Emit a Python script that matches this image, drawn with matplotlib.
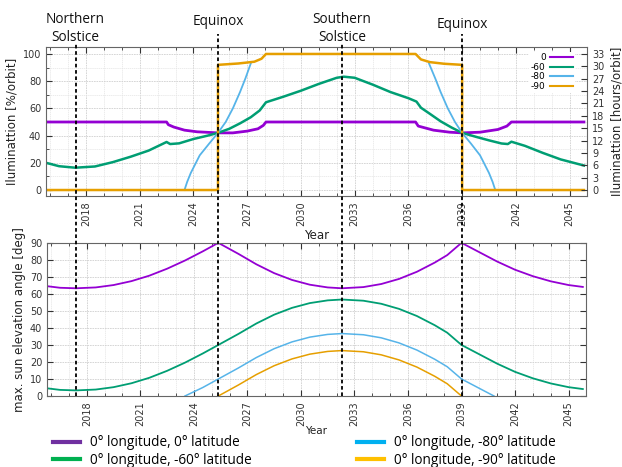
import numpy as np
import matplotlib
matplotlib.use("Agg")
import matplotlib.pyplot as plt
from matplotlib.transforms import blended_transform_factory
from matplotlib.lines import Line2D

# --- illumination per orbit (top panel) ---
lat0_year = [2015.77, 2022.5, 2022.6, 2022.9, 2023.5, 2024.2, 2025.37, 2026.2, 2027.0,
             2027.6, 2027.9, 2028.05, 2036.4, 2036.55, 2037.4, 2038.3, 2039.0, 2040.0,
             2041.0, 2041.5, 2041.75, 2045.8]
lat0_illum = [50, 50, 48, 46.3, 44, 42.8, 42, 42, 43.3,
              45, 47.5, 50, 50, 47, 44, 42.5, 42, 42.5,
              44.5, 47, 50, 50]

lat60_year = [2015.77, 2016.5, 2017.4, 2018.5, 2019.5, 2020.5, 2021.5, 2022.5, 2022.7,
              2023.2, 2024.0, 2024.8, 2025.37, 2026.0, 2026.6, 2027.2, 2027.7, 2028.05,
              2029.0, 2030.0, 2031.0, 2032.0, 2032.4, 2033.0, 2034.0, 2035.0, 2036.0,
              2036.45, 2036.7, 2037.2, 2037.8, 2038.4, 2039.0, 2039.8, 2040.5, 2041.2,
              2041.55, 2041.75, 2042.5, 2043.5, 2044.5, 2045.8]
lat60_illum = [20, 17.5, 16.4, 17.3, 20.5, 24.5, 29, 35.3, 33.8,
               34.3, 37.5, 40, 42, 45, 49, 53.5, 58.5, 64.5,
               68.5, 73, 78, 82.5, 83.3, 82.5, 77.5, 72, 67.5,
               65, 60.5, 56, 50.5, 46, 42, 39, 36.5, 34.2,
               33.8, 35.5, 32.5, 27.3, 22.5, 18]

lat80_year_a = [2023.5, 2023.65, 2023.85, 2024.35, 2024.87, 2025.37, 2025.8, 2026.2,
                2026.6, 2026.9, 2027.2]
lat80_illum_a = [0, 6, 12.5, 25.5, 34, 42, 50, 60, 72, 82, 93]
lat80_year_b = [2037.15, 2037.5, 2037.8, 2038.2, 2038.6, 2039.0, 2039.5, 2040.0,
                2040.5, 2040.7, 2040.85]
lat80_illum_b = [93, 82, 72, 60, 50, 42, 34, 25.5, 12.5, 6, 0]

lat90_year = [2015.77, 2025.37, 2025.37, 2026.5, 2027.4, 2027.8, 2028.05, 2036.4,
              2036.7, 2037.2, 2038.0, 2039.0, 2039.0, 2045.8]
lat90_illum = [0, 0, 92, 93, 94.3, 96.5, 100, 100,
               96, 94, 92.8, 92, 0, 0]

# --- max. sun elevation angle (bottom panel) ---
elev_year = [2015.8, 2016.5, 2017.4, 2018.5, 2019.5, 2020.5, 2021.5, 2022.5, 2023.5,
             2024.5, 2025.37, 2026.5, 2027.5, 2028.5, 2029.5, 2030.5, 2031.5, 2032.3,
             2033.5, 2034.5, 2035.5, 2036.5, 2037.5, 2038.2, 2039.0, 2040.0, 2041.0,
             2042.0, 2043.0, 2044.0, 2045.0, 2045.8]
elev_lat0 = [64.5, 63.6, 63.3, 63.8, 65.2, 67.5, 70.7, 74.8, 79.6,
             85.0, 90.0, 83.5, 77.4, 72.2, 68.2, 65.4, 63.8, 63.3,
             64.0, 65.8, 68.8, 73.0, 78.4, 82.8, 90.0, 84.5, 79.0,
             74.2, 70.4, 67.4, 65.2, 64.1]
elev_lat60 = [4.5, 3.6, 3.3, 3.8, 5.2, 7.5, 10.7, 14.8, 19.6,
              25.0, 30.0, 36.5, 42.6, 47.8, 51.8, 54.6, 56.2, 56.7,
              56.0, 54.2, 51.2, 47.0, 41.6, 37.2, 30.0, 24.5, 19.0,
              14.2, 10.4, 7.4, 5.2, 4.1]
elev80_year = [2023.5, 2024.5, 2025.37, 2026.5, 2027.5, 2028.5, 2029.5, 2030.5, 2031.5,
               2032.3, 2033.5, 2034.5, 2035.5, 2036.5, 2037.5, 2038.2, 2039.0, 2040.0,
               2040.82]
elev_lat80 = [0, 5.0, 10.0, 16.5, 22.6, 27.8, 31.8, 34.6, 36.2,
              36.7, 36.0, 34.2, 31.2, 27.0, 21.6, 17.2, 10.0, 4.5,
              0]
elev90_year = [2025.37, 2026.5, 2027.5, 2028.5, 2029.5, 2030.5, 2031.5, 2032.3,
               2033.5, 2034.5, 2035.5, 2036.5, 2037.5, 2038.2, 2039.0]
elev_lat90 = [0, 6.5, 12.6, 17.8, 21.8, 24.6, 26.2, 26.7,
              26.0, 24.2, 21.2, 17.0, 11.6, 7.2, 0]

season_years = [2017.42, 2025.37, 2032.28, 2039.0]
season_names = ["Northern\nSolstice", "Equinox", "Southern\nSolstice", "Equinox"]
year_ticks = list(range(2018, 2046, 3))
orbit_hours = 33

c_purple, c_green, c_blue, c_orange = "#9400d3", "#009e73", "#56b4e9", "#e69f00"
leg_colors = ["#7030a0", "#00b050", "#00b0f0", "#ffc000"]
leg_labels = ["0° longitude, 0° latitude", "0° longitude, -60° latitude",
              "0° longitude, -80° latitude", "0° longitude, -90° latitude"]

xmin, xmax = 2015.77, 2045.98
W, H = 622.0, 467.0

fig = plt.figure(figsize=(6.22, 4.67), dpi=100)
ax1 = fig.add_axes([0.074, 0.580, 0.870, 0.319])
ax2 = fig.add_axes([0.0756, 0.152, 0.8666, 0.328])


def style_axis(ax):
    ax.set_xlim(xmin, xmax)
    ax.set_xticks(year_ticks)
    ax.set_xticks(np.arange(2016, 2046), minor=True)
    ax.set_xticklabels([str(y) for y in year_ticks], rotation=90)
    ax.grid(True, which="major", color="#d0d0d0", lw=0.6, ls=(0, (2, 1)))
    ax.grid(True, which="minor", color="#e4e4e4", lw=0.5, ls=(0, (2, 1)))
    ax.tick_params(which="both", direction="in", top=True, right=True,
                   labelsize=7, colors="#333333", length=4)
    ax.tick_params(which="minor", length=2)
    for s in ax.spines.values():
        s.set_color("#666666")
        s.set_linewidth(0.8)
    ax.set_axisbelow(True)


# top panel
style_axis(ax1)
ax1.plot(lat0_year, lat0_illum, color=c_purple, lw=2, label="0")
ax1.plot(lat60_year, lat60_illum, color=c_green, lw=1.8, label="-60")
ax1.plot(lat80_year_a, lat80_illum_a, color=c_blue, lw=1.3, label="-80")
ax1.plot(lat80_year_b, lat80_illum_b, color=c_blue, lw=1.3)
ax1.plot(lat90_year, lat90_illum, color=c_orange, lw=1.8, label="-90")
ax1.set_ylim(-4.5, 105)
ax1.set_yticks(range(0, 101, 20))
ax1.set_yticks(range(0, 101, 10), minor=True)
ax1.set_ylabel("Iluminattion [%/orbit]", fontsize=8.5, color="#222222", labelpad=3)
ax1.set_xlabel("Year", fontsize=8.5, color="#222222", labelpad=2)
ax1.tick_params(axis="y", right=False, which="both")

ax1r = ax1.twinx()
ax1r.set_ylim(-4.5 * orbit_hours / 100, 105 * orbit_hours / 100)
ax1r.set_yticks(range(0, 34, 3))
ax1r.tick_params(direction="in", labelsize=7, colors="#333333", length=4)
ax1r.set_ylabel("Iluminattion [hours/orbit]", fontsize=8.5, color="#222222", labelpad=4)
for s in ax1r.spines.values():
    s.set_visible(False)

leg = ax1.legend(loc="upper right", fontsize=6.5, markerfirst=False, frameon=True,
                 fancybox=False, edgecolor="none", framealpha=1, labelspacing=0.05,
                 handlelength=2.5, handletextpad=0.5, borderpad=0.2,
                 bbox_to_anchor=(0.985, 1.0))
for line in leg.get_lines():
    line.set_linewidth(1.5)

# bottom panel
style_axis(ax2)
ax2.plot(elev_year, elev_lat0, color=c_purple, lw=1.3)
ax2.plot(elev_year, elev_lat60, color=c_green, lw=1.3)
ax2.plot(elev80_year, elev_lat80, color=c_blue, lw=1.1)
ax2.plot(elev90_year, elev_lat90, color=c_orange, lw=1.1)
ax2.set_ylim(0, 90)
ax2.set_yticks(range(0, 91, 10))
ax2.set_ylabel("max. sun elevation angle [deg]", fontsize=8.5, color="#222222", labelpad=3)
ax2.set_xlabel("Year", fontsize=7.5, color="#222222", labelpad=0)

# season markers spanning both panels, with headers centred on them
trans = blended_transform_factory(ax1.transData, fig.transFigure)
line_top = [44, 34, 44, 34]
head_top = [12, 14, 12, 17]
for yr, name, lt, ht in zip(season_years, season_names, line_top, head_top):
    fig.add_artist(Line2D([yr, yr], [1 - 396 / H, 1 - lt / H], transform=trans,
                          color="black", lw=1.3, ls=(0, (2, 1.5))))
    fig.text(yr, 1 - ht / H, name, transform=trans, ha="center", va="top",
             fontsize=9.8, family="Open Sans", linespacing=1.3, color="#111111")

# bottom legend, two columns
handles = [Line2D([], [], color=c, lw=3) for c in leg_colors]
leg_opts = dict(frameon=False, prop={"family": "Open Sans", "size": 9.8},
                handlelength=2.0, handletextpad=0.75, labelspacing=0.2, borderpad=0,
                borderaxespad=0, loc="upper left")
fig.legend(handles[:2], leg_labels[:2], bbox_to_anchor=(53 / W, 1 - 435.5 / H), **leg_opts)
fig.legend(handles[2:], leg_labels[2:], bbox_to_anchor=(357 / W, 1 - 435.5 / H), **leg_opts)

fig.savefig("out.png", dpi=100)
